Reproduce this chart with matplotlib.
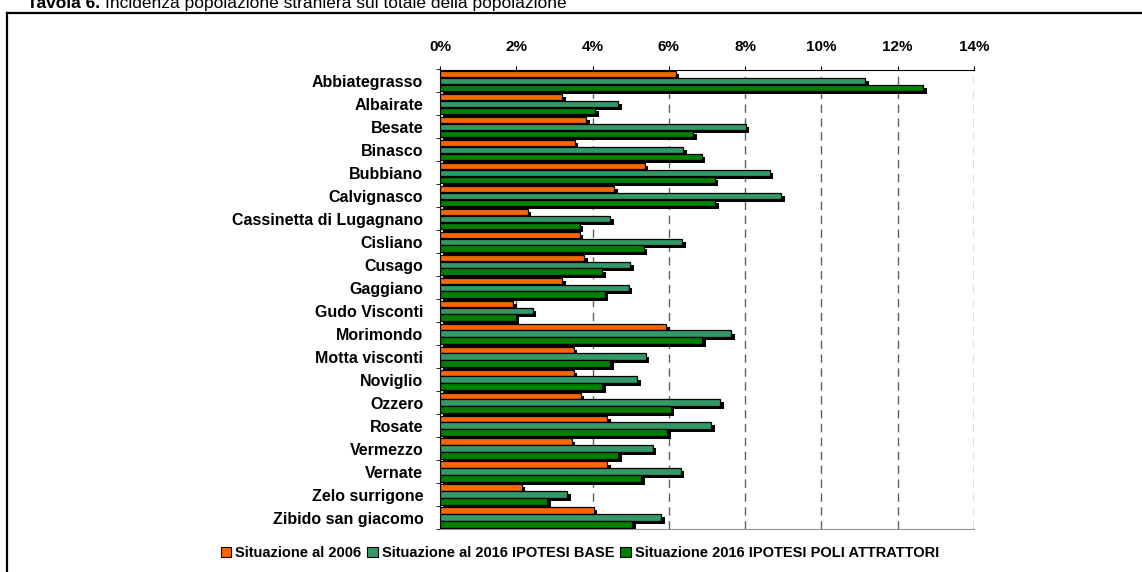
import matplotlib
matplotlib.use("Agg")
import matplotlib.pyplot as plt
import matplotlib.patheffects as pe
from matplotlib.patches import Patch
from matplotlib.lines import Line2D
import numpy as np

plt.rcParams['font.family'] = ['Liberation Sans', 'DejaVu Sans']

comuni = ['Abbiategrasso', 'Albairate', 'Besate', 'Binasco', 'Bubbiano', 'Calvignasco',
          'Cassinetta di Lugagnano', 'Cisliano', 'Cusago', 'Gaggiano', 'Gudo Visconti',
          'Morimondo', 'Motta visconti', 'Noviglio', 'Ozzero', 'Rosate', 'Vermezzo',
          'Vernate', 'Zelo surrigone', 'Zibido san giacomo']
sit_2006 = [6.18, 3.21, 3.84, 3.54, 5.37, 4.57, 2.30, 3.66, 3.78, 3.21, 1.92,
            5.93, 3.50, 3.50, 3.69, 4.38, 3.45, 4.38, 2.14, 4.03]
base_2016 = [11.15, 4.67, 8.02, 6.38, 8.65, 8.95, 4.47, 6.35, 4.99, 4.95, 2.43,
             7.63, 5.40, 5.17, 7.35, 7.11, 5.58, 6.31, 3.34, 5.80]
poli_2016 = [12.67, 4.07, 6.64, 6.86, 7.20, 7.22, 3.66, 5.34, 4.25, 4.32, 1.98,
             6.87, 4.47, 4.25, 6.05, 5.96, 4.67, 5.28, 2.81, 5.04]
serie = ['Situazione al 2006', 'Situazione al 2016 IPOTESI BASE',
         'Situazione 2016 IPOTESI POLI ATTRATTORI']
colori = ['#FF6600', '#339966', '#008000']
xticks = np.arange(0, 15, 2)

fig = plt.figure(figsize=(11.42, 5.72), dpi=100)
ax = fig.add_axes([440/1142, 1-529/572, 534/1142, 459.5/572])

y = np.arange(len(comuni))
h = 0.28
shadow = [pe.SimplePatchShadow(offset=(2.5, -2.2), shadow_rgbFace='black', alpha=1), pe.Normal()]
for k, vals in enumerate([sit_2006, base_2016, poli_2016]):
    bars = ax.barh(y + (k - 1) * 0.3, vals, height=h, color=colori[k],
                   edgecolor='black', linewidth=0.9, zorder=3)
    for b in bars:
        b.set_path_effects(shadow)

ax.set_xlim(0, 14)
ax.set_ylim(len(comuni) - 0.5, -0.5)
ax.xaxis.tick_top()
ax.set_xticks(xticks)
ax.set_xticklabels([f'{v}%' for v in xticks], fontweight='bold', fontsize=11)
ax.tick_params(axis='x', direction='out', length=3, pad=8, color='black')
ax.set_yticks(y)
ax.set_yticklabels(comuni, fontweight='bold', fontsize=11.5)
ax.set_yticks(np.arange(len(comuni) + 1) - 0.5, minor=True)
ax.tick_params(axis='y', which='major', length=0, pad=12)
ax.tick_params(axis='y', which='minor', length=3, direction='out')
ax.grid(axis='x', color='#606060', linestyle=(0, (6, 4)), linewidth=1, zorder=0)
ax.spines['right'].set_visible(False)
ax.spines['bottom'].set_color('#909090')
ax.spines['top'].set_color('black')
ax.spines['left'].set_color('black')

# cornice
fig.add_artist(Line2D([7/1142, 1], [1-12.5/572, 1-12.5/572], color='black', lw=1.6,
                      transform=fig.transFigure))
fig.add_artist(Line2D([7/1142, 7/1142], [1-12.5/572, 0], color='black', lw=1.6,
                      transform=fig.transFigure))

# titolo
t1 = fig.text(27/1142, 1-8/572, 'Tavola 6.', fontweight='bold', fontsize=12.5, va='baseline')
fig.canvas.draw()
bb = t1.get_window_extent(renderer=fig.canvas.get_renderer())
fig.text((bb.x1 + 5)/1142, 1-8/572, 'Incidenza popolazione straniera sul totale della popolazione',
         fontsize=12.5, va='baseline')

handles = [Patch(facecolor=c, edgecolor='black', linewidth=0.8) for c in colori]
fig.legend(handles, serie, loc='center', bbox_to_anchor=(580/1142, 1-553/572), ncol=3,
           frameon=False, prop={'weight': 'bold', 'size': 10.5}, handlelength=0.7,
           handleheight=0.7, handletextpad=0.3, columnspacing=0.4)

fig.savefig('out.png', dpi=100)
